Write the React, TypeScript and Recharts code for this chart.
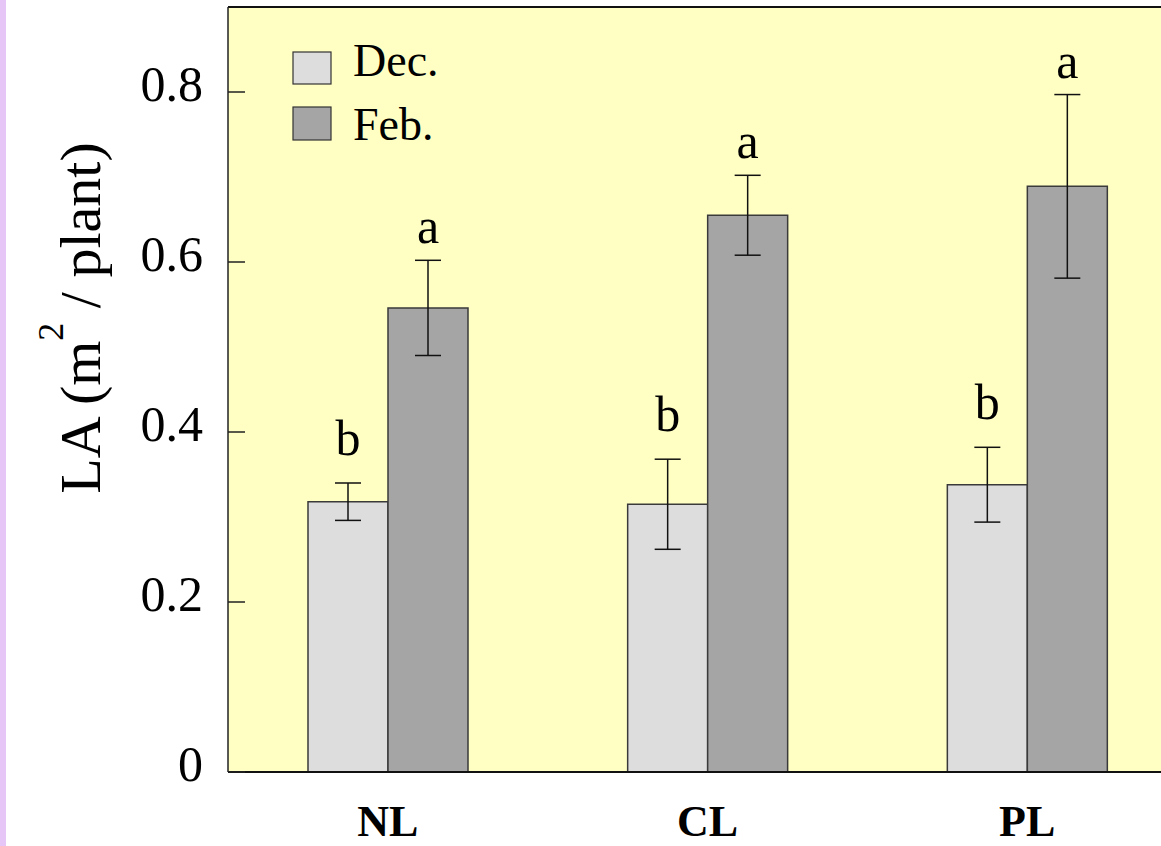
import {
  BarChart,
  Bar,
  XAxis,
  YAxis,
  CartesianGrid,
  ErrorBar,
  LabelList,
  Legend,
  ReferenceLine,
} from "recharts";

const categories = ["NL", "CL", "PL"];
const decValues = [0.318, 0.315, 0.338];
const decErrors = [0.022, 0.053, 0.044];
const febValues = [0.546, 0.655, 0.689];
const febErrors = [0.056, 0.047, 0.108];
const decLetters = ["b", "b", "b"];
const febLetters = ["a", "a", "a"];
const yTicks = [0, 0.2, 0.4, 0.6, 0.8];

const DEC_COLOR = "#dcdddc";
const FEB_COLOR = "#a5a5a5";
const SERIF = "'Liberation Serif', 'Times New Roman', serif";

const data = categories.map((name, i) => ({
  name,
  dec: decValues[i],
  decErr: decErrors[i],
  decLetter: decLetters[i],
  feb: febValues[i],
  febErr: febErrors[i],
  febLetter: febLetters[i],
}));

// letter sits a little above the top of the error bar
const letterContent =
  (values: number[], errors: number[], gap: number) => (props: any) => {
    const { x, y, width, height, value, index } = props;
    const pxPerUnit = height / values[index];
    const errTop = y - errors[index] * pxPerUnit;
    return (
      <text
        x={x + width / 2}
        y={errTop - gap}
        textAnchor="middle"
        fontFamily={SERIF}
        fontSize={50}
        fill="#000"
      >
        {value}
      </text>
    );
  };

const YTick = ({ x, y, payload }: any) => (
  <g>
    <line x1={x} x2={x + 17} y1={y} y2={y} stroke="#222" strokeWidth={1.5} />
    <text
      x={x - 25}
      y={y}
      dy={9}
      textAnchor="end"
      fontFamily={SERIF}
      fontSize={50}
      fill="#000"
    >
      {payload.value === 0 ? "0" : payload.value.toFixed(1)}
    </text>
  </g>
);

const XTick = ({ x, y, payload }: any) => (
  <text
    x={x}
    y={y}
    dy={64}
    textAnchor="middle"
    fontFamily={SERIF}
    fontWeight="bold"
    fontSize={44}
    fill="#000"
  >
    {payload.value}
  </text>
);

const YLabel = () => (
  <text
    x={100}
    y={318}
    transform="rotate(-90, 100, 318)"
    textAnchor="middle"
    fontFamily={SERIF}
    fontSize={58}
    fill="#000"
  >
    LA (m
    <tspan dy={-37} fontSize={36}>
      2
    </tspan>
    <tspan dy={37}> / plant)</tspan>
  </text>
);

const renderLegend = () => (
  <svg width={200} height={130}>
    <rect x={1} y={22} width={38} height={32} fill={DEC_COLOR} stroke="#333" strokeWidth={1.2} />
    <text x={61} y={46} fontFamily={SERIF} fontSize={46} fill="#000">
      Dec.
    </text>
    <rect x={1} y={77} width={38} height={33} fill={FEB_COLOR} stroke="#333" strokeWidth={1.2} />
    <text x={61} y={110} fontFamily={SERIF} fontSize={46} fill="#000">
      Feb.
    </text>
  </svg>
);

export default function App() {
  return (
    <div
      style={{
        position: "absolute",
        left: 0,
        top: 0,
        width: 1161,
        height: 846,
        overflow: "hidden",
        background: "#fff",
      }}
    >
      <div
        style={{
          position: "absolute",
          left: 0,
          top: 0,
          width: 6,
          height: 846,
          background: "#e6c6f6",
        }}
      />
      <BarChart
        width={1187}
        height={846}
        data={data}
        margin={{ top: 7, right: 0, left: 0, bottom: 0 }}
        barGap={0}
        barSize={80}
      >
        <CartesianGrid horizontal={false} vertical={false} fill="#ffffc4" />
        <XAxis
          dataKey="name"
          height={74}
          axisLine={{ stroke: "#111", strokeWidth: 2 }}
          tickLine={false}
          tickSize={0}
          tickMargin={0}
          tick={<XTick />}
        />
        <YAxis
          width={228}
          domain={[0, 0.9]}
          ticks={yTicks}
          interval={0}
          axisLine={{ stroke: "#222", strokeWidth: 1.5 }}
          tickLine={false}
          tickSize={0}
          tickMargin={0}
          tick={<YTick />}
          label={<YLabel />}
        />
        <ReferenceLine y={0.9} stroke="#111" strokeWidth={2} />
        <Legend
          layout="vertical"
          align="center"
          verticalAlign="middle"
          content={renderLegend}
          wrapperStyle={{ left: 292, top: 30, width: 200, height: 130 }}
        />
        <Bar
          dataKey="dec"
          name="Dec."
          fill={DEC_COLOR}
          stroke="#3a3a3a"
          strokeWidth={1.5}
          isAnimationActive={false}
        >
          <ErrorBar dataKey="decErr" width={13} stroke="#111" strokeWidth={1.5} />
          <LabelList dataKey="decLetter" content={letterContent(decValues, decErrors, 28)} />
        </Bar>
        <Bar
          dataKey="feb"
          name="Feb."
          fill={FEB_COLOR}
          stroke="#3a3a3a"
          strokeWidth={1.5}
          isAnimationActive={false}
        >
          <ErrorBar dataKey="febErr" width={13} stroke="#111" strokeWidth={1.5} />
          <LabelList dataKey="febLetter" content={letterContent(febValues, febErrors, 17)} />
        </Bar>
      </BarChart>
    </div>
  );
}
